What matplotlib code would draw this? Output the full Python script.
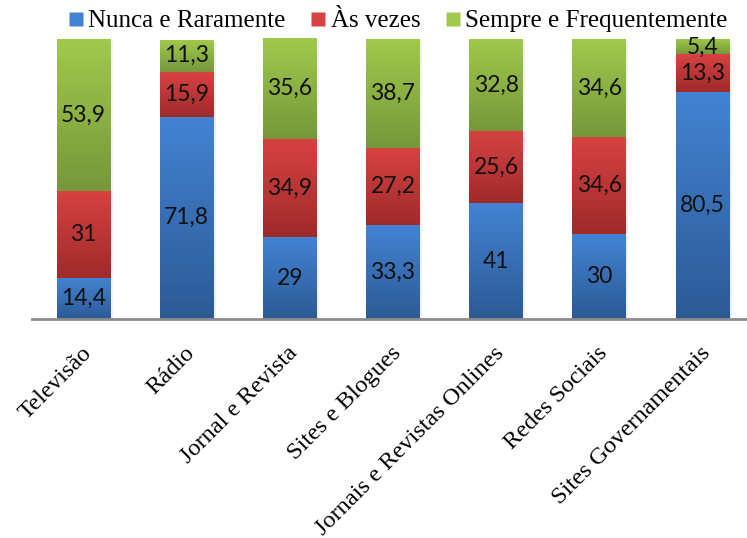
import numpy as np
import matplotlib.pyplot as plt
from matplotlib.colors import LinearSegmentedColormap
from matplotlib.lines import Line2D
import matplotlib.transforms as mtransforms

categorias = ["Televisão", "Rádio", "Jornal e Revista", "Sites e Blogues",
              "Jornais e Revistas Onlines", "Redes Sociais", "Sites Governamentais"]
nunca = [14.4, 71.8, 29, 33.3, 41, 30, 80.5]
as_vezes = [31, 15.9, 34.9, 27.2, 25.6, 34.6, 13.3]
sempre = [53.9, 11.3, 35.6, 38.7, 32.8, 34.6, 5.4]

series = [
    ("Nunca e Raramente", nunca, ("#4383d3", "#2c5a95")),
    ("Às vezes", as_vezes, ("#d84242", "#9f2a2a")),
    ("Sempre e Frequentemente", sempre, ("#a0ca4c", "#76973a")),
]


def rotulo(v):
    return f"{v:g}".replace(".", ",")


fig = plt.figure(figsize=(7.47, 5.38), dpi=100)
ax = fig.add_axes([32 / 747, 1 - 319 / 538, (754 - 32) / 747, (319 - 37) / 538])

x = np.arange(len(categorias))
largura = 0.52
base = np.zeros(len(categorias))
grad = np.linspace(0, 1, 256).reshape(-1, 1)

for nome, valores, (c_topo, c_base) in series:
    cmap = LinearSegmentedColormap.from_list(nome, [c_base, c_topo])
    barras = ax.bar(x, valores, largura, bottom=base, color=c_topo,
                    edgecolor="none", zorder=2)
    for b, v in zip(barras, valores):
        # degradê vertical recortado pela barra
        x0, y0 = b.get_x(), b.get_y()
        img = ax.imshow(grad, cmap=cmap, origin="lower", aspect="auto",
                        extent=[x0, x0 + b.get_width(), y0, y0 + b.get_height()],
                        zorder=3, interpolation="bicubic")
        img.set_clip_path(b)
        # sombra leve
        ax.bar(b.get_x() + b.get_width() / 2 + 0.012, v, b.get_width() + 0.02,
               bottom=y0 - 0.6, color="#000000", alpha=0.06, zorder=1,
               edgecolor="none")
        ax.text(b.get_x() + b.get_width() / 2, y0 + v / 2, rotulo(v),
                ha="center", va="center", fontsize=16.5, family="Lato",
                color="#111111", zorder=4)
    base += np.array(valores)

ax.set_xlim(-0.5, len(categorias) - 0.5)
ax.set_ylim(0, 100)
for s in ["top", "right", "left"]:
    ax.spines[s].set_visible(False)
ax.spines["bottom"].set_color("#8c8c8c")
ax.spines["bottom"].set_linewidth(2)
ax.spines["bottom"].set_zorder(5)
ax.set_yticks([])
ax.set_xticks(x)
ax.tick_params(axis="x", length=0)
rot = ax.set_xticklabels(categorias, rotation=45, ha="right", va="center",
                         rotation_mode="anchor", family="Liberation Serif",
                         fontsize=17.6)
desloc = mtransforms.ScaledTranslation(5 / 100, -26 / 100, fig.dpi_scale_trans)
for t in rot:
    t.set_transform(t.get_transform() + desloc)

handles = [Line2D([], [], marker="s", linestyle="none", markersize=9.5,
                  markerfacecolor=c[0], markeredgecolor="none")
           for _, _, c in series]
fig.legend(handles, [s[0] for s in series], loc="center",
           bbox_to_anchor=(396 / 747, 1 - 21 / 538), ncol=3, frameon=False,
           prop={"family": "Liberation Serif", "size": 18},
           handletextpad=0.05, columnspacing=0.85, handlelength=0.9)

fig.savefig("out.png", dpi=100)
